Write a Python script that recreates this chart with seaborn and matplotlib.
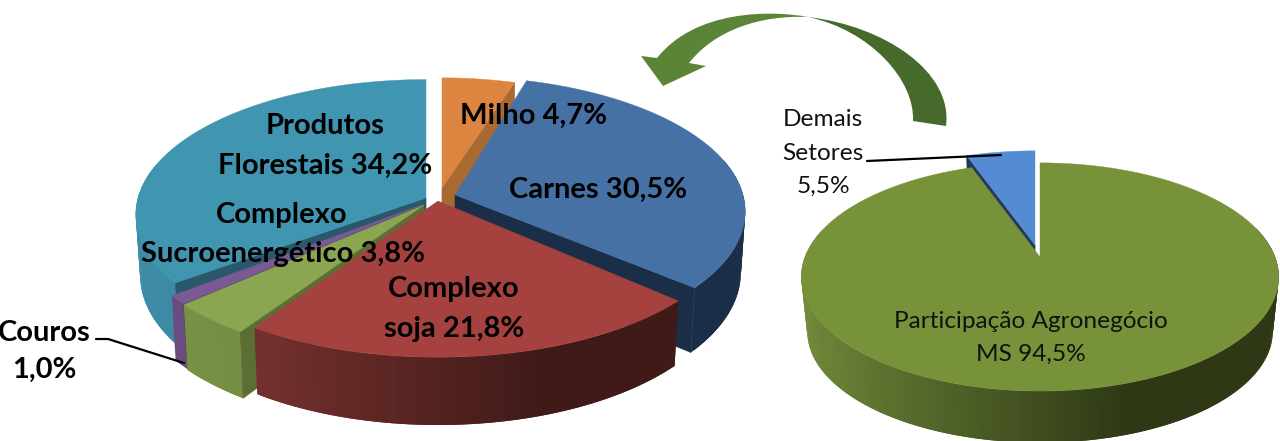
import numpy as np
import seaborn as sns
import matplotlib.pyplot as plt
from matplotlib.colors import to_rgb
from matplotlib.path import Path
from matplotlib.patches import PathPatch

# Dados da pizza da esquerda (a ordem segue o sentido horario a partir do topo)
setores = ['Milho', 'Carnes', 'Complexo soja', 'Complexo Sucroenergetico', 'Couros', 'Produtos Florestais']
valores = [4.7, 30.5, 21.8, 3.8, 1.0, 34.2]

# Pizza da direita
setores_ms = ['Participacao Agronegocio MS', 'Demais Setores']
valores_ms = [94.5, 5.5]

sns.set_theme(style='white')
plt.rcParams['font.family'] = ['Lato', 'DejaVu Sans']

fig = plt.figure(figsize=(12.8, 4.41), dpi=100)
ax = fig.add_axes([0, 0, 1, 1])
ax.set_xlim(0, 1280)
ax.set_ylim(441, 0)
ax.axis('off')


def limites(vals):
    acum = np.cumsum([0] + list(vals)) / np.sum(vals) * 360
    return acum[:-1], acum[1:]


def aro(teta, apice, geo, escala=1.0, baixo=False):
    t = np.radians(teta)
    u, v = np.sin(t), -np.cos(t)
    den = 1 - geo['p'] * v
    x = geo['rx'] * escala * u / den
    y = geo['ry'] * escala * v / den
    if baixo:
        return apice[0] + x * geo['s'], apice[1] + geo['d'] + y * geo['sy']
    return apice[0] + x, apice[1] + y


def fatia(a0, a1, apice, geo, topo, claro, escuro, parede=None, lado=None, escala=1.0):
    # parede externa em tiras sobrepostas, para o degrade horizontal sem emendas
    cl, es = np.array(to_rgb(claro)), np.array(to_rgb(escuro))
    angs = np.arange(a0, a1 + 1.0, 1.0)
    angs[-1] = a1
    for b0, b1 in zip(angs[:-1], angs[1:]):
        meio = (b0 + b1) / 2
        if not 75 < meio < 285:
            continue
        f = np.clip((np.sin(np.radians(meio)) + 1) / 1.3, 0, 1)
        tr = np.linspace(max(a0, b0 - 1.0), b1, 4)
        xt, yt = aro(tr, apice, geo, escala)
        xb, yb = aro(tr[::-1], apice, geo, escala, baixo=True)
        ax.fill(np.r_[xt, xb], np.r_[yt, yb], color=cl + (es - cl) * f, lw=0)
    # parede radial
    if lado is not None:
        xt, yt = aro(np.array([lado]), apice, geo, escala)
        xb, yb = aro(np.array([lado]), apice, geo, escala, baixo=True)
        ax.fill([apice[0], xt[0], xb[0], apice[0]],
                [apice[1], yt[0], yb[0], apice[1] + geo['d']], color=parede, lw=0.5)
    # face de cima
    tt = np.linspace(a0, a1, 200)
    x, y = aro(tt, apice, geo, escala)
    ax.fill(np.r_[apice[0], x], np.r_[apice[1], y], color=topo, lw=0.3)


geo_esq = {'rx': 288, 'ry': 133, 'p': 0.123, 'd': 60, 's': 0.985, 'sy': 1.05}
geo_dir = {'rx': 235, 'ry': 110.6, 'p': 0.175, 'd': 55, 's': 0.975, 'sy': 0.975}

ini, fim = limites(valores)
# Milho, Florestais, Carnes, Couros, Sucro, Soja (de tras para a frente)
fatia(ini[0], fim[0], (442, 188), geo_esq, '#DC8540', '#A96A32', '#A96A32', '#A96A32', fim[0], escala=0.93)
fatia(ini[5] + 2, fim[5], (426, 198), geo_esq, '#4095B0', '#3F8CA6', '#2F7A92', '#28586A', ini[5] + 2)
fatia(ini[1] - 1.5, fim[1] - 2, (455, 195), geo_esq, '#4571A5', '#1A2E48', '#1A2E48', '#1A2E48', fim[1] - 2)
fatia(ini[4], fim[4], (424, 204), geo_esq, '#7A5A94', '#6A4E82', '#644A7B', '#4E3A62', ini[4], escala=1.03)
fatia(ini[3], fim[3], (424, 205), geo_esq, '#8BA650', '#7D9648', '#667C3A', '#5B6E34', ini[3], escala=1.03)
fatia(ini[2], fim[2], (438, 201), geo_esq, '#A5423F', '#8F3C3A', '#3F1A17', escala=1.03)

ini_ms, fim_ms = limites(valores_ms)
fatia(ini_ms[1], fim_ms[1], (1035, 245), geo_dir, '#558BD3', '#1F3558', '#1F3558', '#22395C', ini_ms[1])
fatia(ini_ms[0], fim_ms[0], (1040, 257), geo_dir, '#789239', '#738C3B', '#2E3815')

# seta curva
escura = Path([(808, 17), (885, 26), (953, 72), (946, 126), (913, 121), (915, 80), (870, 30), (808, 17)],
              [Path.MOVETO, Path.CURVE4, Path.CURVE4, Path.CURVE4, Path.LINETO, Path.CURVE4, Path.CURVE4, Path.CURVE4])
clara = Path([(808, 17), (770, 10), (695, 10), (657, 58), (641, 56), (663, 86), (706, 66), (689, 63),
              (715, 30), (760, 15), (808, 17)],
             [Path.MOVETO, Path.CURVE4, Path.CURVE4, Path.CURVE4, Path.LINETO, Path.LINETO, Path.LINETO, Path.LINETO,
              Path.CURVE4, Path.CURVE4, Path.CURVE4])
ax.add_patch(PathPatch(clara, fc='#5A8536', ec='none'))
ax.add_patch(PathPatch(escura, fc='#456A2B', ec='none'))

# linhas de chamada
ax.plot([96, 108, 184], [339, 339, 363], color='black', lw=1.6)
ax.plot([867, 1001], [161, 155], color='black', lw=1.6)

# rotulos
rotulos_neg = [('Produtos', 325, 126), ('Florestais 34,2%', 325, 166), ('Complexo', 282, 215),
               ('Sucroenergético 3,8%', 283, 254), ('Milho 4,7%', 533, 116), ('Carnes 30,5%', 598, 190),
               ('Complexo', 454, 289), ('soja 21,8%', 454, 329), ('Couros', 44, 333), ('1,0%', 44, 370)]
rotulos_reg = [('Demais', 823, 120), ('Setores', 823, 154), ('5,5%', 823, 186),
               ('Participação Agronegócio', 1031, 322), ('MS 94,5%', 1031, 354)]
for txt, x, y in rotulos_neg:
    ax.text(x, y, txt, ha='center', va='center', fontsize=21, fontweight='bold', color='black')
for txt, x, y in rotulos_reg:
    ax.text(x, y, txt, ha='center', va='center', fontsize=17.6, color='#111111')

fig.savefig('out.png', dpi=100)
